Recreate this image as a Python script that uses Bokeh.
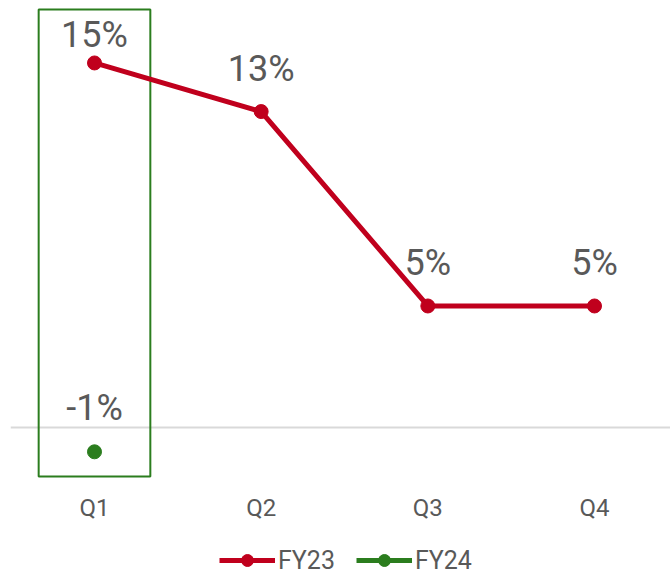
from bokeh.plotting import figure
from bokeh.models import Range1d, FixedTicker, ColumnDataSource, Legend, LegendItem
from bokeh.core.properties import value
from bokeh.embed import file_html
from bokeh.resources import INLINE

# ---- data ----
quarters = ["Q1", "Q2", "Q3", "Q4"]
fy23 = [15, 13, 5, 5]
fy24 = [-1, None, None, None]
fy23_labels = ["15%", "13%", "5%", "5%"]
fy24_labels = ["-1%", "", "", ""]

# ---- style ----
RED = "#C0001D"
GREEN = "#2B7D1E"
GRAY = "#595959"
FONT = "Roboto"
fy23_label_offsets = [-7, -22, -22, -22]
fy24_label_offsets = [-23, 0, 0, 0]

xs = list(range(len(quarters)))

p = figure(width=670, height=575, output_backend="svg", toolbar_location=None,
           x_range=Range1d(-0.504, 3.456), y_range=Range1d(-6.09, 17.57),
           min_border_left=10, min_border_right=0, min_border_top=0, min_border_bottom=0)
p.outline_line_color = None
p.background_fill_color = "white"
p.border_fill_color = "white"

p.yaxis.visible = False
p.xgrid.visible = False
p.ygrid.ticker = FixedTicker(ticks=[0])
p.ygrid.grid_line_color = "#D9D9D9"
p.ygrid.grid_line_width = 2

p.xaxis.fixed_location = -2.18
p.xaxis.ticker = FixedTicker(ticks=xs)
p.xaxis.major_label_overrides = {i: q for i, q in enumerate(quarters)}
p.xaxis.axis_line_color = None
p.xaxis.major_tick_line_color = None
p.xaxis.minor_tick_line_color = None
p.xaxis.major_label_text_font = FONT
p.xaxis.major_label_text_font_size = "24px"
p.xaxis.major_label_text_color = GRAY
p.xaxis.major_label_standoff = 8

# highlight box around Q1
hw = 0.335
p.quad(left=[xs[0] - hw], right=[xs[0] + hw], top=[17.2], bottom=[-2.02],
       fill_color=None, line_color=GREEN, line_width=2)

src23 = ColumnDataSource(dict(x=xs, y=fy23, t=fy23_labels, off=fy23_label_offsets))
y24 = [float("nan") if v is None else v for v in fy24]
src24 = ColumnDataSource(dict(x=xs, y=y24, t=fy24_labels, off=fy24_label_offsets))

l23 = p.line("x", "y", source=src23, line_color=RED, line_width=5)
c23 = p.scatter("x", "y", source=src23, size=14, fill_color=RED, line_color=RED)
l24 = p.line("x", "y", source=src24, line_color=GREEN, line_width=5)
c24 = p.scatter("x", "y", source=src24, size=14, fill_color=GREEN, line_color=GREEN)

for src in (src23, src24):
    p.text("x", "y", text="t", source=src, y_offset="off", text_align="center",
           text_baseline="bottom", text_font=value(FONT), text_font_size="36px",
           text_color=GRAY)

legend = Legend(items=[LegendItem(label="FY23", renderers=[l23, c23]),
                       LegendItem(label="FY24", renderers=[l24, c24])],
                orientation="horizontal", location=(209, 0),
                border_line_color=None, background_fill_alpha=0,
                label_text_font=FONT, label_text_font_size="25px",
                label_text_color=GRAY, glyph_width=56, glyph_height=30,
                label_height=30, label_standoff=3, spacing=21, padding=0, margin=0)
p.add_layout(legend, "center")

open("out.html", "w").write(file_html(p, INLINE))
